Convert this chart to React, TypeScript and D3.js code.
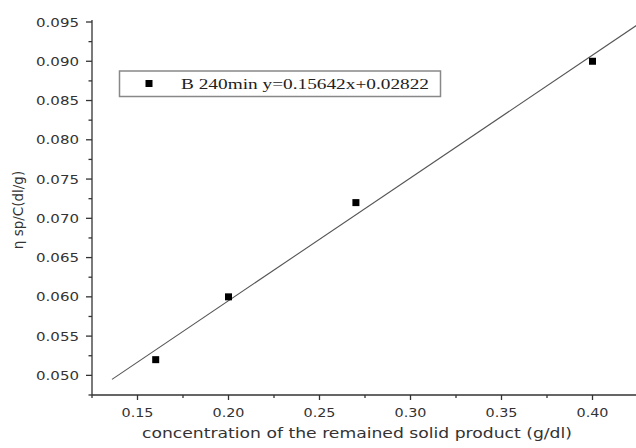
import React from "react";
import * as d3 from "d3";

// measured concentrations (g/dl) and reduced viscosity (dl/g)
const conc = [0.16, 0.2, 0.27, 0.4];
const etaSp = [0.052, 0.06, 0.072, 0.09];
const slope = 0.15642;
const intercept = 0.02822;
const fitRange = [0.136, 0.43];
const xTicks = [0.15, 0.2, 0.25, 0.3, 0.35, 0.4];
const yTicks = [0.05, 0.055, 0.06, 0.065, 0.07, 0.075, 0.08, 0.085, 0.09, 0.095];
const legendLabel = "B  240min y=0.15642x+0.02822";

const W = 636;
const H = 448;

const App = () => {
  const x = React.useMemo(() => d3.scaleLinear().domain([0.125, 0.425]).range([92, 638]), []);
  const y = React.useMemo(() => d3.scaleLinear().domain([0.0475, 0.095]).range([395, 22]), []);

  const xMinor = d3.range(0.125, 0.4251, 0.025).filter(v => !xTicks.some(t => Math.abs(t - v) < 1e-6));
  const yMinor = d3.range(0.0475, 0.0951, 0.0025).filter(v => !yTicks.some(t => Math.abs(t - v) < 1e-6));

  const line = d3.line<number>().x(d => x(d)).y(d => y(slope * d + intercept));

  const txt = "#333";
  const sans = "'DejaVu Sans', sans-serif";

  return (
    <svg width={W} height={H} style={{position: "absolute", left: 0, top: 0, background: "#fff"}}>
      {/* fitted line */}
      <path d={line(fitRange) || ""} fill="none" stroke="#555" strokeWidth={1.1} />

      {/* points */}
      {conc.map((c, i) => (
        <rect key={i} x={x(c) - 3.5} y={y(etaSp[i]) - 3.5} width={7} height={7} fill="#000" />
      ))}

      {/* x axis */}
      <g stroke="#333" strokeWidth={1.3}>
        <line x1={x.range()[0]} x2={x.range()[1]} y1={395} y2={395} />
        {xTicks.map(t => <line key={t} x1={x(t)} x2={x(t)} y1={395} y2={400} />)}
        {xMinor.map(t => <line key={t} x1={x(t)} x2={x(t)} y1={395} y2={398} />)}
      </g>
      {xTicks.map(t => (
        <text key={t} x={x(t)} y={417} textAnchor="middle" fontFamily={sans} fontSize={13} fill={txt}
          textLength={32} lengthAdjust="spacingAndGlyphs">
          {d3.format(".2f")(t)}
        </text>
      ))}
      <text x={357} y={438} textAnchor="middle" fontFamily={sans} fontSize={14} fill={txt}
        textLength={430} lengthAdjust="spacingAndGlyphs">
        concentration of the remained solid product (g/dl)
      </text>

      {/* y axis */}
      <g stroke="#333" strokeWidth={1.3}>
        <line x1={92} x2={92} y1={y.range()[1] - 2} y2={395} />
        {yTicks.map(t => <line key={t} x1={86} x2={92} y1={y(t)} y2={y(t)} />)}
        {yMinor.map(t => <line key={t} x1={88.5} x2={92} y1={y(t)} y2={y(t)} />)}
      </g>
      {yTicks.map(t => (
        <text key={t} x={79} y={y(t) + 4.5} textAnchor="end" fontFamily={sans} fontSize={13} fill={txt}
          textLength={43} lengthAdjust="spacingAndGlyphs">
          {d3.format(".3f")(t)}
        </text>
      ))}
      <text transform={`translate(23,210) rotate(-90)`} textAnchor="middle" fontFamily={sans} fontSize={13.5} fill={txt}>
        η sp/C(dl/g)
      </text>

      {/* legend */}
      <rect x={119.5} y={71} width={321} height={25.5} fill="#fff" stroke="#888" strokeWidth={1.5} />
      <rect x={145.5} y={80} width={7} height={7} fill="#000" />
      <text x={181} y={88.5} fontFamily="'Liberation Serif', serif" fontSize={15} fill="#222"
        textLength={248} lengthAdjust="spacingAndGlyphs">
        {legendLabel}
      </text>
    </svg>
  );
};

export default App;
